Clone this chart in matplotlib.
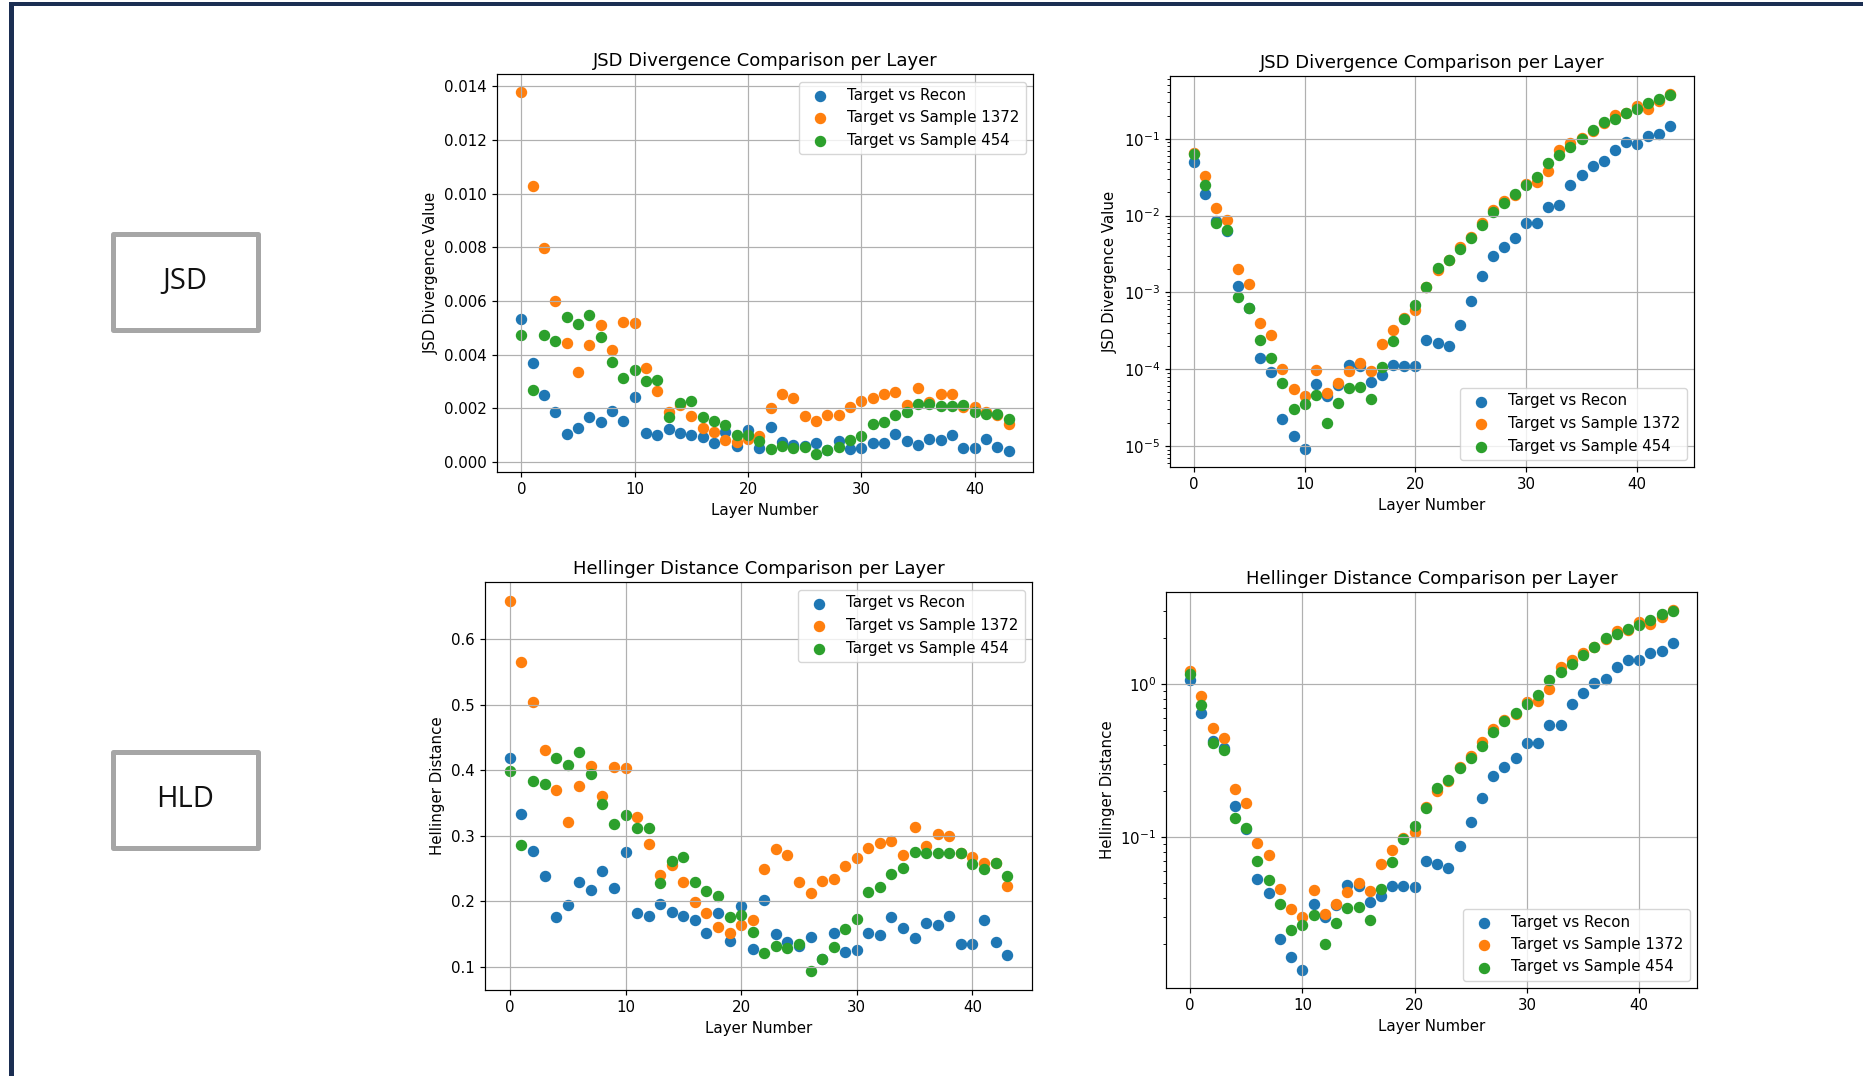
import matplotlib
matplotlib.use("Agg")
import matplotlib.pyplot as plt
from matplotlib.patches import Rectangle

W, H = 1863, 1076

layers = list(range(44))
series_names = ["Target vs Recon", "Target vs Sample 1372", "Target vs Sample 454"]

# JSD, linear view
jsd_recon = [0.00533, 0.00367, 0.00249, 0.00186, 0.00103, 0.00125, 0.00167, 0.0015, 0.00191, 0.00153,
             0.00241, 0.00108, 0.001, 0.00124, 0.00108, 0.00102, 0.00093, 0.00072, 0.0011, 0.00061,
             0.0012, 0.00052, 0.00131, 0.00074, 0.00062, 0.0006, 0.00071, 0.00045, 0.00077, 0.00047,
             0.00052, 0.00069, 0.00069, 0.00105, 0.00077, 0.00064, 0.00086, 0.00083, 0.001, 0.00053,
             0.00053, 0.00087, 0.00055, 0.00041]
jsd_s1372 = [0.01378, 0.01027, 0.00799, 0.00599, 0.00445, 0.00337, 0.00437, 0.00512, 0.00417, 0.00523,
             0.00516, 0.0035, 0.00265, 0.00185, 0.00211, 0.00171, 0.00126, 0.0011, 0.00083, 0.00074,
             0.00086, 0.00095, 0.002, 0.00252, 0.00238, 0.0017, 0.00153, 0.00176, 0.00174, 0.00203,
             0.00226, 0.00237, 0.00254, 0.0026, 0.00213, 0.00277, 0.00224, 0.00253, 0.00254, 0.00206,
             0.00205, 0.00185, 0.00176, 0.0014]
jsd_s454 = [0.00474, 0.00268, 0.00474, 0.00451, 0.00541, 0.00513, 0.00546, 0.00464, 0.00374, 0.00312,
            0.00342, 0.00303, 0.00307, 0.00166, 0.00218, 0.00227, 0.00169, 0.00151, 0.00138, 0.001,
            0.00102, 0.00077, 0.00047, 0.00058, 0.00053, 0.00057, 0.0003, 0.00043, 0.00056, 0.00081,
            0.00097, 0.00141, 0.00148, 0.00175, 0.00187, 0.00215, 0.00216, 0.00207, 0.0021, 0.00212,
            0.00186, 0.00179, 0.0018, 0.00161]

# JSD, log view
jsdlog_recon = [0.0498, 0.0193, 0.00853, 0.00638, 0.00121, 0.00063, 0.00014, 9.14e-5, 2.26e-5, 1.35e-5,
                9.1e-6, 6.45e-5, 4.42e-5, 6.3e-5, 0.000114, 0.000109, 6.84e-5, 8.36e-5, 0.000113, 0.000111,
                0.000109, 0.000238, 0.000218, 0.000199, 0.000377, 0.00078, 0.00161, 0.00296, 0.00395, 0.00508,
                0.0081, 0.0081, 0.0131, 0.0136, 0.0248, 0.034, 0.0442, 0.0508, 0.0705, 0.0896,
                0.0861, 0.107, 0.115, 0.1475]
jsdlog_s1372 = [0.065, 0.0324, 0.01245, 0.00887, 0.00201, 0.0013, 0.0004, 0.000277, 0.000101, 5.56e-5,
                4.47e-5, 9.8e-5, 4.93e-5, 6.65e-5, 9.4e-5, 0.00012, 9.5e-5, 0.000215, 0.000327, 0.000469,
                0.000583, 0.00119, 0.00193, 0.0026, 0.00392, 0.00528, 0.00804, 0.01185, 0.01535, 0.01875,
                0.0258, 0.0273, 0.038, 0.072, 0.087, 0.103, 0.1245, 0.1614, 0.203, 0.213,
                0.263, 0.24, 0.312, 0.384]
jsdlog_s454 = [0.063, 0.025, 0.0079, 0.00652, 0.00088, 0.00063, 0.00024, 0.000138, 6.65e-5, 3.02e-5,
               3.5e-5, 4.65e-5, 1.97e-5, 3.65e-5, 5.73e-5, 5.96e-5, 4.04e-5, 0.000106, 0.000233, 0.00045,
               0.000678, 0.00116, 0.00209, 0.00265, 0.0037, 0.0051, 0.0075, 0.011, 0.0145, 0.019,
               0.0248, 0.0318, 0.0488, 0.0614, 0.0787, 0.1, 0.128, 0.166, 0.182, 0.218,
               0.24, 0.288, 0.331, 0.365]

# Hellinger, linear view
hld_recon = [0.418, 0.3337, 0.2762, 0.239, 0.1764, 0.1942, 0.2298, 0.2171, 0.2456, 0.2197,
             0.2752, 0.1825, 0.1774, 0.1952, 0.183, 0.1779, 0.1713, 0.1509, 0.182, 0.1387,
             0.1927, 0.127, 0.2023, 0.1504, 0.1382, 0.1311, 0.1458, 0.112, 0.1509, 0.1224,
             0.126, 0.1509, 0.1484, 0.1754, 0.1596, 0.1433, 0.1662, 0.1631, 0.1779, 0.1346,
             0.1341, 0.1713, 0.1372, 0.1178]
hld_s1372 = [0.6586, 0.5654, 0.5043, 0.431, 0.3693, 0.3205, 0.376, 0.407, 0.3602, 0.4045,
             0.403, 0.3286, 0.2874, 0.2395, 0.2553, 0.2298, 0.1983, 0.182, 0.1601, 0.1519,
             0.1642, 0.1713, 0.2492, 0.2797, 0.2711, 0.2298, 0.213, 0.2314, 0.2334, 0.2538,
             0.2655, 0.2818, 0.2884, 0.2925, 0.2711, 0.3128, 0.2848, 0.3021, 0.2991, 0.2731,
             0.268, 0.2583, 0.258, 0.2237]
hld_s454 = [0.3989, 0.2853, 0.3841, 0.3785, 0.4187, 0.4085, 0.4274, 0.3938, 0.3485, 0.3179,
            0.3317, 0.3113, 0.3123, 0.2283, 0.2614, 0.267, 0.2298, 0.2161, 0.2079, 0.1754,
            0.1784, 0.153, 0.1209, 0.1321, 0.1285, 0.1346, 0.0929, 0.1117, 0.1295, 0.1575,
            0.1728, 0.2135, 0.2212, 0.2421, 0.2507, 0.2746, 0.2731, 0.2736, 0.2736, 0.2736,
            0.2568, 0.2497, 0.2589, 0.2385]

# Hellinger, log view
hldlog_recon = [1.062, 0.647, 0.427, 0.383, 0.159, 0.113, 0.0532, 0.0433, 0.0215, 0.0165,
                0.0135, 0.0364, 0.0302, 0.0359, 0.0489, 0.0478, 0.0375, 0.041, 0.0477, 0.0476,
                0.047, 0.0697, 0.067, 0.0631, 0.0869, 0.1253, 0.1806, 0.25, 0.286, 0.3275,
                0.414, 0.414, 0.537, 0.543, 0.741, 0.878, 1.015, 1.073, 1.284, 1.441,
                1.427, 1.592, 1.633, 1.86]
hldlog_s1372 = [1.216, 0.839, 0.519, 0.442, 0.2046, 0.1659, 0.091, 0.0763, 0.0454, 0.0338,
                0.0299, 0.0451, 0.0313, 0.0367, 0.0438, 0.0499, 0.0443, 0.0664, 0.0819, 0.099,
                0.1083, 0.157, 0.1995, 0.232, 0.289, 0.337, 0.417, 0.509, 0.585, 0.641,
                0.767, 0.779, 0.932, 1.29, 1.442, 1.592, 1.743, 1.966, 2.216, 2.25,
                2.563, 2.476, 2.762, 3.05]
hldlog_s454 = [1.162, 0.73, 0.41, 0.373, 0.1337, 0.114, 0.0694, 0.0527, 0.0362, 0.0246,
               0.0264, 0.0308, 0.01995, 0.0275, 0.0343, 0.0349, 0.0285, 0.0458, 0.069, 0.097,
               0.1186, 0.1553, 0.2099, 0.235, 0.282, 0.329, 0.396, 0.486, 0.571, 0.647,
               0.744, 0.848, 1.067, 1.191, 1.35, 1.553, 1.76, 2.015, 2.13, 2.306,
               2.425, 2.63, 2.862, 3.0]

k = 1.08  # the charts sit on the slide a bit larger than default size
plt.rcParams.update({
    "font.size": 10 * k,
    "axes.titlesize": 12 * k,
    "axes.labelsize": 10 * k,
    "xtick.labelsize": 10 * k,
    "ytick.labelsize": 10 * k,
    "legend.fontsize": 10 * k,
    "axes.linewidth": 0.8 * k,
    "grid.linewidth": 0.8 * k,
    "xtick.major.width": 0.8 * k,
    "ytick.major.width": 0.8 * k,
    "xtick.major.size": 3.5 * k,
    "ytick.major.size": 3.5 * k,
    "ytick.minor.size": 2 * k,
    "ytick.minor.width": 0.6 * k,
})


def px_axes(fig, x0, y0, x1, y1):
    return fig.add_axes([x0 / W, 1 - y1 / H, (x1 - x0) / W, (y1 - y0) / H])


def draw_panel(ax, data, title, ylabel, log=False, loc="upper right"):
    for vals, name in zip(data, series_names):
        ax.scatter(layers, vals, s=52, label=name)
    if log:
        ax.set_yscale("log")
    ax.set_title(title)
    ax.set_xlabel("Layer Number")
    ax.set_ylabel(ylabel)
    ax.legend(loc=loc)
    ax.grid(True)


fig = plt.figure(figsize=(W / 100, H / 100), dpi=100)

# slide frame
fig.add_artist(Rectangle((9 / W, 1 - 6 / H), 1 - 9 / W, 4 / H, transform=fig.transFigure,
                         facecolor="#1b2e52", edgecolor="none"))
fig.add_artist(Rectangle((9 / W, 0), 5 / W, 1 - 2 / H, transform=fig.transFigure,
                         facecolor="#1b2e52", edgecolor="none"))

# label boxes
for label, top, bottom in [("JSD", 233.5, 329.5), ("HLD", 751.5, 847.5)]:
    fig.add_artist(Rectangle((112.5 / W, 1 - bottom / H), 145 / W, (bottom - top) / H,
                             transform=fig.transFigure, facecolor="white",
                             edgecolor="#a6a6a6", linewidth=3.6, joinstyle="round"))
    fig.text(185 / W, 1 - (top + bottom) / 2 / H, label, ha="center", va="center",
             fontsize=21, family=["Open Sans", "DejaVu Sans"], color="#111111")

ax1 = px_axes(fig, 497, 74, 1033, 472)
draw_panel(ax1, [jsd_recon, jsd_s1372, jsd_s454],
           "JSD Divergence Comparison per Layer", "JSD Divergence Value")

ax2 = px_axes(fig, 1170, 76, 1694, 467)
draw_panel(ax2, [jsdlog_recon, jsdlog_s1372, jsdlog_s454],
           "JSD Divergence Comparison per Layer", "JSD Divergence Value", log=True, loc="lower right")

ax3 = px_axes(fig, 485, 582, 1032, 990)
draw_panel(ax3, [hld_recon, hld_s1372, hld_s454],
           "Hellinger Distance Comparison per Layer", "Hellinger Distance")

ax4 = px_axes(fig, 1166, 592, 1697, 988)
draw_panel(ax4, [hldlog_recon, hldlog_s1372, hldlog_s454],
           "Hellinger Distance Comparison per Layer", "Hellinger Distance", log=True, loc="lower right")

fig.savefig("out.png", dpi=100)
